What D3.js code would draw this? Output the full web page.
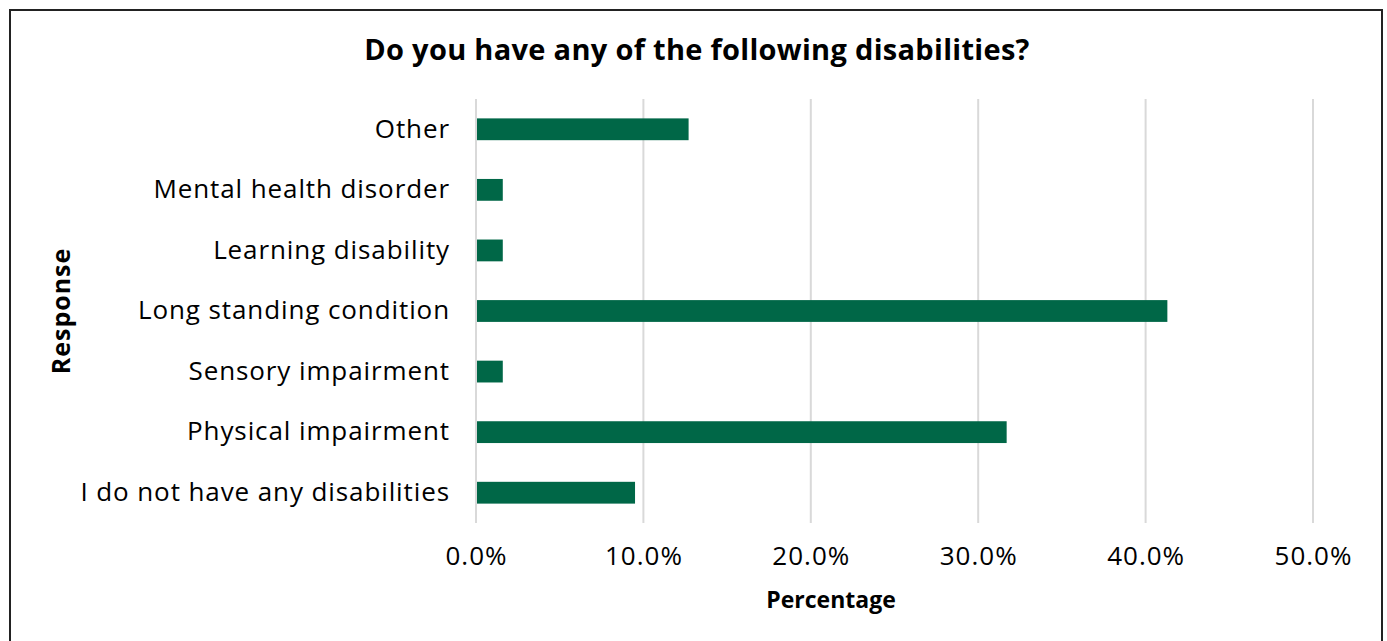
<!DOCTYPE html>
<html>
<head>
<meta charset="utf-8">
<script src="https://cdn.jsdelivr.net/npm/d3@7"></script>
<style>
  html, body { margin: 0; padding: 0; background: #fff; }
  svg { display: block; font-family: "Open Sans", "Noto Sans", sans-serif; }
</style>
</head>
<body>
<div id="chart"></div>
<script>
const categories = [
  'Other',
  'Mental health disorder',
  'Learning disability',
  'Long standing condition',
  'Sensory impairment',
  'Physical impairment',
  'I do not have any disabilities'
];
const percentages = [12.7, 1.6, 1.6, 41.3, 1.6, 31.7, 9.5];
const xTicks = [0, 10, 20, 30, 40, 50];

const WIDTH = 1387;
const HEIGHT = 641;
const BAR_COLOR = '#006747';
const GRID_COLOR = '#d9d9d9';

const margin = { top: 99, right: 74, bottom: 118, left: 476 };
const plotW = WIDTH - margin.left - margin.right;
const plotH = HEIGHT - margin.top - margin.bottom;

const data = categories.map((c, i) => ({ category: c, value: percentages[i] }));

const svg = d3.select('#chart')
  .append('svg')
  .attr('width', WIDTH)
  .attr('height', HEIGHT);

// outer frame
svg.append('rect')
  .attr('x', 10).attr('y', 10)
  .attr('width', 1372).attr('height', 640)
  .attr('fill', 'white')
  .attr('stroke', '#222')
  .attr('stroke-width', 2);

svg.append('text')
  .attr('x', 697).attr('y', 60)
  .attr('text-anchor', 'middle')
  .attr('font-size', 29)
  .attr('font-weight', 'bold')
  .attr('letter-spacing', 0.3)
  .attr('fill', '#000')
  .text('Do you have any of the following disabilities?');

const g = svg.append('g').attr('transform', `translate(${margin.left},${margin.top})`);

const x = d3.scaleLinear().domain([0, 50]).range([0, plotW]);
const y = d3.scaleBand().domain(categories).range([0, plotH]).paddingInner(0.64).paddingOuter(0.32);

// gridlines
g.append('g')
  .selectAll('line')
  .data(xTicks)
  .join('line')
  .attr('x1', d => x(d)).attr('x2', d => x(d))
  .attr('y1', 0).attr('y2', plotH)
  .attr('stroke', GRID_COLOR)
  .attr('stroke-width', 2);

// bars
g.append('g')
  .selectAll('rect')
  .data(data)
  .join('rect')
  .attr('x', x(0) + 1)
  .attr('y', d => y(d.category))
  .attr('width', d => x(d.value) - x(0) - 1)
  .attr('height', y.bandwidth())
  .attr('fill', BAR_COLOR);

// y axis
const yAxis = g.append('g')
  .call(d3.axisLeft(y).tickSize(0).tickPadding(26));
yAxis.select('.domain').remove();
yAxis.selectAll('text')
  .attr('font-size', 26)
  .attr('letter-spacing', 0.9)
  .attr('font-family', '"Open Sans", "Noto Sans", sans-serif')
  .attr('fill', '#000');

// x axis
const xAxis = g.append('g')
  .attr('transform', `translate(0,${plotH})`)
  .call(d3.axisBottom(x).tickValues(xTicks).tickSize(0).tickPadding(24)
    .tickFormat(d => d3.format('.1f')(d) + '%'));
xAxis.select('.domain').remove();
xAxis.selectAll('text')
  .attr('font-size', 26)
  .attr('letter-spacing', 1)
  .attr('font-family', '"Open Sans", "Noto Sans", sans-serif')
  .attr('fill', '#000');

// axis titles
svg.append('text')
  .attr('x', 831).attr('y', 608)
  .attr('text-anchor', 'middle')
  .attr('font-size', 23)
  .attr('font-weight', 'bold')
  .text('Percentage');

svg.append('text')
  .attr('transform', `translate(70,${margin.top + plotH / 2}) rotate(-90)`)
  .attr('text-anchor', 'middle')
  .attr('font-size', 25)
  .attr('font-weight', 'bold')
  .attr('letter-spacing', 1)
  .text('Response');
</script>
</body>
</html>
